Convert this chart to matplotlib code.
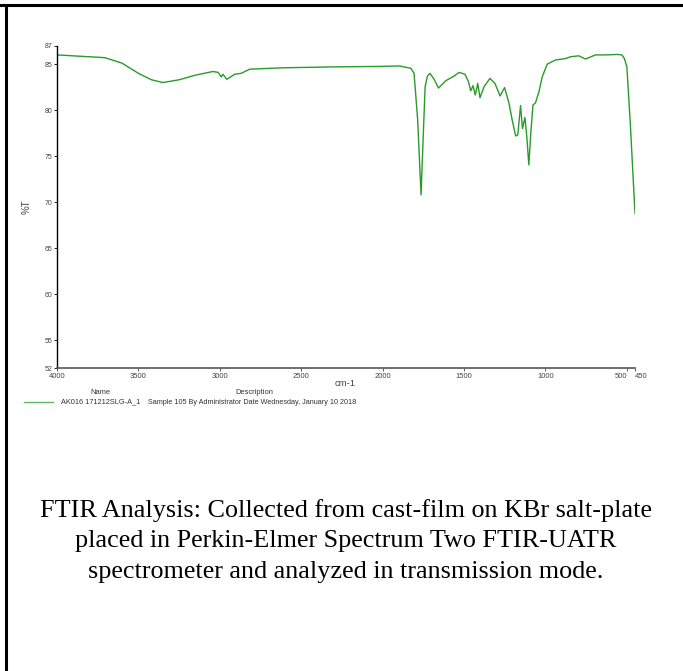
import numpy as np
import matplotlib
matplotlib.use("Agg")
import matplotlib.pyplot as plt
from matplotlib.lines import Line2D

# espectro FTIR (cm-1, %T)
wavenumber = [4000, 3706, 3600, 3500, 3420, 3349, 3250, 3150, 3042, 3010, 2991, 2981,
              2957, 2935, 2909, 2868, 2817, 2613, 2300, 2021, 1898, 1827, 1807, 1785,
              1764, 1750, 1739, 1725, 1710, 1685, 1657, 1612, 1561, 1531, 1494, 1473,
              1459, 1445, 1431, 1416, 1402, 1377, 1341, 1310, 1279, 1251, 1224, 1204,
              1183, 1170, 1153, 1141, 1126, 1114, 1102, 1090, 1077, 1061, 1040, 1020,
              989, 938, 877, 846, 795, 754, 693, 632, 560, 530, 515, 500, 479, 450]
transmit = [86.0, 85.7, 85.1, 84.0, 83.3, 83.0, 83.3, 83.8, 84.2, 84.1, 83.6, 83.9,
            83.35, 83.6, 83.9, 84.0, 84.45, 84.6, 84.7, 84.75, 84.8, 84.55, 84.0, 79.0,
            70.8, 77.5, 82.55, 83.7, 84.0, 83.4, 82.4, 83.2, 83.7, 84.1, 83.9, 83.1,
            82.1, 82.65, 81.65, 82.9, 81.35, 82.55, 83.45, 82.9, 81.55, 82.45, 80.75, 78.9,
            77.2, 77.3, 80.5, 78.0, 79.2, 77.0, 74.05, 77.5, 80.55, 80.8, 82.0, 83.6,
            85.0, 85.45, 85.6, 85.8, 85.9, 85.55, 86.0, 86.0, 86.05, 86.0, 85.6, 84.7, 78.6, 68.8]

x_ticks = [4000, 3500, 3000, 2500, 2000, 1500, 1000, 500, 450]
x_ticklabels = ["4000", "3500", "3000", "2500", "2000", "1500", "1000", "500", "450"]
y_ticks = [52, 55, 60, 65, 70, 75, 80, 85, 87]

sample_name = "AK016 171212SLG-A_1"
sample_desc = "Sample 105 By Administrator Date Wednesday, January 10 2018"
caption = ("FTIR Analysis: Collected from cast-film on KBr salt-plate\n"
           "placed in Perkin-Elmer Spectrum Two FTIR-UATR\n"
           "spectrometer and analyzed in transmission mode.")

plt.rcParams['font.family'] = ['Liberation Sans', 'DejaVu Sans']

fig = plt.figure(figsize=(6.83, 6.71), dpi=100)

# --- marco del documento ---
fig.add_artist(Line2D([0, 1], [1 - 5/671, 1 - 5/671], color='black', lw=2.2,
                      transform=fig.transFigure))
fig.add_artist(Line2D([6/683, 6/683], [0, 1 - 5/671], color='black', lw=2.2,
                      transform=fig.transFigure))

# --- espectro ---
ax = fig.add_axes([57/683, 1 - 368/671, (635 - 57)/683, (368 - 45.7)/671])
ax.plot(wavenumber, transmit, color='#2a9a2a', lw=1.0)
ax.set_xlim(4000, 450)
ax.set_ylim(52, 87)
ax.set_xticks(x_ticks)
ax.set_xticklabels(x_ticklabels)
ax.set_yticks(y_ticks)
ax.tick_params(length=2.5, width=0.6, colors='#444444', pad=1)
ax.tick_params(axis='x', labelsize=5.5)
ax.tick_params(axis='y', labelsize=5, colors='black', labelcolor='#444444')
for lbl in ax.get_xticklabels():
    if lbl.get_text() == "500":
        lbl.set_horizontalalignment('right')
    if lbl.get_text() == "450":
        lbl.set_horizontalalignment('left')
ax.spines['top'].set_visible(False)
ax.spines['right'].set_visible(False)
ax.spines['left'].set_linewidth(1.0)
ax.spines['bottom'].set_linewidth(1.2)
ax.spines['bottom'].set_color('#555555')
ax.set_ylabel("%T", fontsize=7, color='#444444')
ax.yaxis.set_label_coords((32 - 57)/(635 - 57), 0.5)
ax.set_xlabel("cm-1", fontsize=6.8, color='#444444')
ax.xaxis.set_label_coords((345 - 57)/(635 - 57), -0.035)

# --- leyenda tipo tabla ---
fig.text(100/683, 1 - 392/671, "Name", fontsize=5.4, color='#333333', ha='center', va='center')
fig.text(254/683, 1 - 392/671, "Description", fontsize=5.4, color='#333333', ha='center', va='center')
fig.add_artist(Line2D([24/683, 53/683], [1 - 402/671, 1 - 402/671], color='#5cb85c', lw=1,
                      transform=fig.transFigure))
fig.text(61/683, 1 - 402/671, sample_name, fontsize=5.3, color='#333333', ha='left', va='center')
fig.text(148/683, 1 - 402/671, sample_desc, fontsize=5.25, color='#333333', ha='left', va='center')

# --- texto de analisis ---
fig.text(346/683, 1 - 541/671, caption, fontsize=18.8, family='Liberation Serif',
         ha='center', va='center', linespacing=1.52)

fig.savefig("out.png", dpi=100)
